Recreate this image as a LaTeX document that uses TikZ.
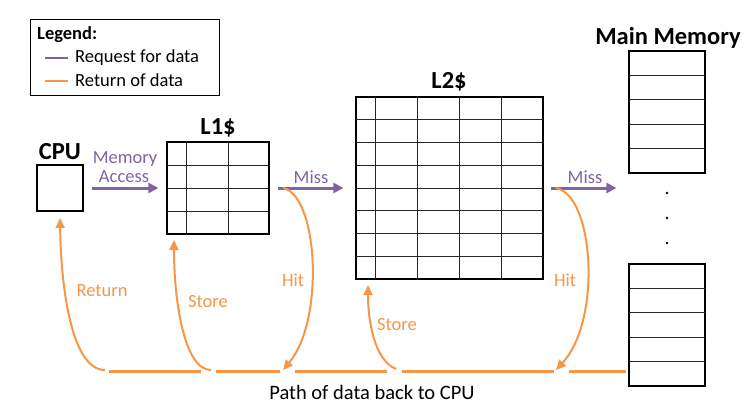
\documentclass[tikz,border=0pt]{standalone}
\usepackage{fontspec}
\setmainfont{Carlito}
\usepackage{xcolor}
\usepackage{tikz}
\usetikzlibrary{arrows.meta, positioning, calc}

\definecolor{requete}{HTML}{8064A2}
\definecolor{retour}{HTML}{F79646}

\tikzset{
  titre/.style={font=\fontsize{24.5}{28}\selectfont\bfseries, inner sep=0pt},
  etiquette/.style={font=\fontsize{18.5}{18}\selectfont, inner sep=0pt},
  cadre/.style={draw=black, line width=1.2pt, inner sep=0pt},
  grille/.style={draw=black!85, line width=0.9pt},
  demande/.style={draw=requete, line width=3pt, -{Triangle[length=10pt,width=10pt]}},
  renvoi/.style={draw=retour, line width=2pt, -{Triangle[length=10pt,width=9pt]}},
  chemin/.style={draw=retour, line width=3pt},
}

\begin{document}
\begin{tikzpicture}[x=1pt, y=-1pt]
    \useasboundingbox (0,0) rectangle (747,410);

    % Legende
    \draw[line width=1pt] (30,19) rectangle (219,95);
    \node[etiquette, font=\fontsize{18.5}{22}\selectfont\bfseries, anchor=west] (legende) at (37,35) {Legend:};
    \draw[requete, line width=2.5pt] (45,58) -- (68,58);
    \draw[retour, line width=2.5pt] (45,81) -- (68,81);
    \node[etiquette, anchor=west] (legReq) at (75,58) {Request for data};
    \node[etiquette, anchor=west] (legRet) at (75,80) {Return of data};

    % Boites
    \node[cadre, minimum width=46pt, minimum height=46pt] (cpu) at (60,188) {};
    \node[cadre, minimum width=102pt, minimum height=92pt] (l1) at (218,188) {};
    \node[cadre, minimum width=187pt, minimum height=182pt] (l2) at (449.5,188) {};
    \node[cadre, minimum width=76pt, minimum height=122pt] (mmHaut) at (667,112) {};
    \node[cadre, minimum width=76pt, minimum height=122pt] (mmBas) at (667,325) {};

    % Titres
    \node[titre] (cpuTitre) at (60,152) {CPU};
    \node[titre] (l1Titre) at (218,128) {L1\$};
    \node[titre] (l2Titre) at (449,82) {L2\$};
    \node[titre] (mmTitre) at (668,38) {Main Memory};

    % Grilles
    \foreach \y in {165,188,211} \draw[grille] (167,\y) -- (269,\y);
    \foreach \x in {186,228} \draw[grille] (\x,142) -- (\x,234);
    \foreach \k in {1,...,7} \draw[grille] (356,97+22.75*\k) -- (543,97+22.75*\k);
    \foreach \x in {375,417,459,501} \draw[grille] (\x,97) -- (\x,279);
    \foreach \k in {1,...,4} {
        \draw[grille] (629,51+24.4*\k) -- (705,51+24.4*\k);
        \draw[grille] (629,264+24.4*\k) -- (705,264+24.4*\k);
    }
    \foreach \y in {193,218,243} \fill (667,\y) circle (1.4pt);

    % Requetes
    \draw[demande, shorten <=8pt, shorten >=8pt] (cpu.east) -- (l1.west);
    \draw[demande, shorten <=8pt, shorten >=12pt] (l1.east) -- (l2.west);
    \draw[demande, shorten <=7pt, shorten >=12pt] (l2.east) -- (mmHaut.west |- l2.east);
    \node[etiquette, text=requete] (acces1) at (125,159) {Memory};
    \node[etiquette, text=requete] (acces2) at (124,177) {Access};
    \node[etiquette, text=requete] (miss1) at (311,177) {Miss};
    \node[etiquette, text=requete] (miss2) at (585,177) {Miss};

    % Points du chemin de retour
    \coordinate (hitDep1) at (283,188);
    \coordinate (hitArr1) at (283,370);
    \coordinate (hitDep2) at (556,188);
    \coordinate (hitArr2) at (556,370);
    \coordinate (retDep) at (105,370);
    \coordinate (stoDep1) at (211,370);
    \coordinate (stoDep2) at (396,369);

    % Chemin du bas
    \draw[chemin] (109,371) -- (201,371);
    \draw[chemin] (216,371) -- (280,371);
    \draw[chemin] (295,371) -- (387,371);
    \draw[chemin] (402,371) -- (554,371);
    \draw[chemin] (569,371) -- (626,371);

    % Retours
    \draw[renvoi] (hitDep1) .. controls (318,195) and (325,320) .. (hitArr1);
    \draw[renvoi] (hitDep2) .. controls (594,195) and (602,320) .. (hitArr2);
    \draw[renvoi] (retDep) .. controls (72,370) and (61,290) .. (cpu.south |- 0,218);
    \draw[renvoi] (stoDep1) .. controls (184,370) and (174,300) .. (174,240);
    \draw[renvoi] (stoDep2) .. controls (374,360) and (368,320) .. (368,285);

    % Etiquettes des retours
    \node[etiquette, text=retour] (hit1) at (293,280) {Hit};
    \node[etiquette, text=retour] (hit2) at (565,280) {Hit};
    \node[etiquette, text=retour] (retour) at (102,291) {Return};
    \node[etiquette, text=retour] (store1) at (208,302) {Store};
    \node[etiquette, text=retour] (store2) at (397,325) {Store};
    \node[etiquette, font=\fontsize{20.5}{24}\selectfont] (chemin) at (372,392) {Path of data back to CPU};
\end{tikzpicture}
\end{document}
